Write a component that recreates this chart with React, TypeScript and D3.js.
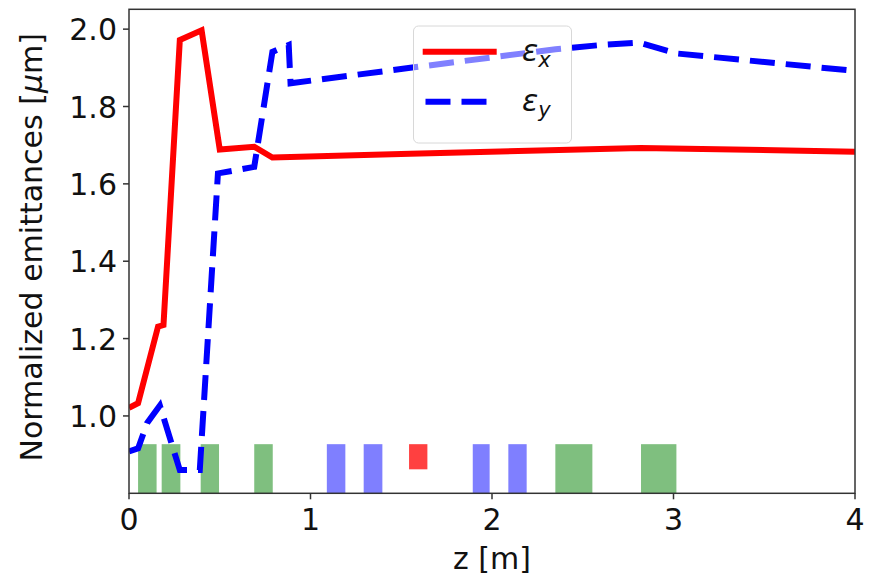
import React from "react";
import * as d3 from "d3";

// Emittance along the beamline
const zX = [0, 0.05, 0.16, 0.19, 0.28, 0.4, 0.5, 0.69, 0.79, 1.55, 2.82, 4.0];
const emitX = [1.021, 1.033, 1.231, 1.235, 1.972, 1.997, 1.689, 1.696, 1.668, 1.678, 1.693, 1.683];

const zY = [0, 0.05, 0.1, 0.17, 0.28, 0.39, 0.49, 0.69, 0.79, 0.88, 0.89, 1.55, 2.35, 2.6, 2.81, 3.02, 4.0];
const emitY = [0.908, 0.916, 0.982, 1.027, 0.86, 0.86, 1.627, 1.644, 1.941, 1.959, 1.86, 1.9, 1.948, 1.959, 1.965, 1.937, 1.892];

// Beamline elements: start, end, type
const elemStart = [0.05, 0.18, 0.395, 0.69, 1.09, 1.293, 1.543, 1.894, 2.09, 2.349, 2.821];
const elemEnd = [0.152, 0.283, 0.496, 0.792, 1.192, 1.396, 1.644, 1.987, 2.191, 2.553, 3.016];
const elemType = ["quad", "quad", "quad", "quad", "sol", "sol", "dip", "sol", "sol", "quad", "quad"];
const elemTop = 0.927;
const dipBottom = 0.862;

const xTicks = [0, 1, 2, 3, 4];
const yTicks = [1.0, 1.2, 1.4, 1.6, 1.8, 2.0];

const W = 873;
const H = 576;
const left = 129;
const right = 855;
const top = 9.3;
const bottom = 493.3;
const font = "DejaVu Sans, sans-serif";
const fs = 30;

const elemColor: Record<string, string> = {
  quad: "rgba(0,128,0,0.5)",
  sol: "rgba(0,0,255,0.5)",
  dip: "rgba(255,0,0,0.75)",
};

export default function App() {
  const x = d3.scaleLinear().domain([0, 4]).range([left, right]);
  const y = d3.scaleLinear().domain([0.8, 2.0513]).range([bottom, top]);

  const lineGen = d3
    .line<[number, number]>()
    .x((d) => x(d[0]))
    .y((d) => y(d[1]));
  const pathX = lineGen(zX.map((z, i) => [z, emitX[i]]) as [number, number][]) || "";
  const pathY = lineGen(zY.map((z, i) => [z, emitY[i]]) as [number, number][]) || "";

  const lx = 413.5;
  const ly = 26;
  const lw = 158;
  const lh = 117;

  return (
    <svg
      width={W}
      height={H}
      style={{ position: "absolute", left: 0, top: 0, background: "#fff" }}
      fontFamily={font}
    >
      <defs>
        <clipPath id="plotClip">
          <rect x={left} y={top} width={right - left} height={bottom - top} />
        </clipPath>
      </defs>

      {/* beamline elements */}
      {elemStart.map((s, i) => {
        const t = elemType[i];
        const y0 = t === "dip" ? dipBottom : 0.8;
        return (
          <rect
            key={i}
            x={x(s)}
            y={y(elemTop)}
            width={x(elemEnd[i]) - x(s)}
            height={y(y0) - y(elemTop)}
            fill={elemColor[t]}
          />
        );
      })}

      <g clipPath="url(#plotClip)">
        <path d={pathX} fill="none" stroke="#ff0000" strokeWidth={6} strokeLinejoin="miter" />
        <path
          d={pathY}
          fill="none"
          stroke="#0000ff"
          strokeWidth={6}
          strokeDasharray="25 11"
          strokeLinejoin="miter"
        />
      </g>

      {/* spines */}
      <rect x={left} y={top} width={right - left} height={bottom - top} fill="none" stroke="#333" strokeWidth={1.5} />

      {/* x axis */}
      {xTicks.map((t) => (
        <g key={t}>
          <line x1={x(t)} x2={x(t)} y1={bottom} y2={bottom + 6} stroke="#333" strokeWidth={1.5} />
          <text x={x(t)} y={530} textAnchor="middle" fontSize={fs} fill="#111">
            {t}
          </text>
        </g>
      ))}
      <text x={(left + right) / 2} y={569} textAnchor="middle" fontSize={fs} fill="#111">
        z [m]
      </text>

      {/* y axis */}
      {yTicks.map((t) => (
        <g key={t}>
          <line x1={left - 6} x2={left} y1={y(t)} y2={y(t)} stroke="#333" strokeWidth={1.5} />
          <text x={left - 12} y={y(t) + 11} textAnchor="end" fontSize={fs} fill="#111">
            {t.toFixed(1)}
          </text>
        </g>
      ))}
      <text
        transform={`translate(42, ${(top + bottom) / 2 - 4}) rotate(-90)`}
        textAnchor="middle"
        fontSize={fs}
        fill="#111"
      >
        Normalized emittances [<tspan fontStyle="italic">μ</tspan>m]
      </text>

      {/* legend */}
      <rect x={lx} y={ly} width={lw} height={lh} rx={5} fill="rgba(255,255,255,0.5)" stroke="#d8d8d8" strokeWidth={1} />
      <line x1={422.7} x2={496.7} y1={51.7} y2={51.7} stroke="#ff0000" strokeWidth={6} />
      <line x1={425.5} x2={486.5} y1={101.7} y2={101.7} stroke="#0000ff" strokeWidth={6} strokeDasharray="25 11" />
      <text x={522} y={61} fontSize={fs} fill="#111">
        <tspan fontStyle="italic">ε</tspan>
        <tspan fontStyle="italic" fontSize={21} dy={6}>x</tspan>
      </text>
      <text x={522} y={111} fontSize={fs} fill="#111">
        <tspan fontStyle="italic">ε</tspan>
        <tspan fontStyle="italic" fontSize={21} dy={6}>y</tspan>
      </text>
    </svg>
  );
}
